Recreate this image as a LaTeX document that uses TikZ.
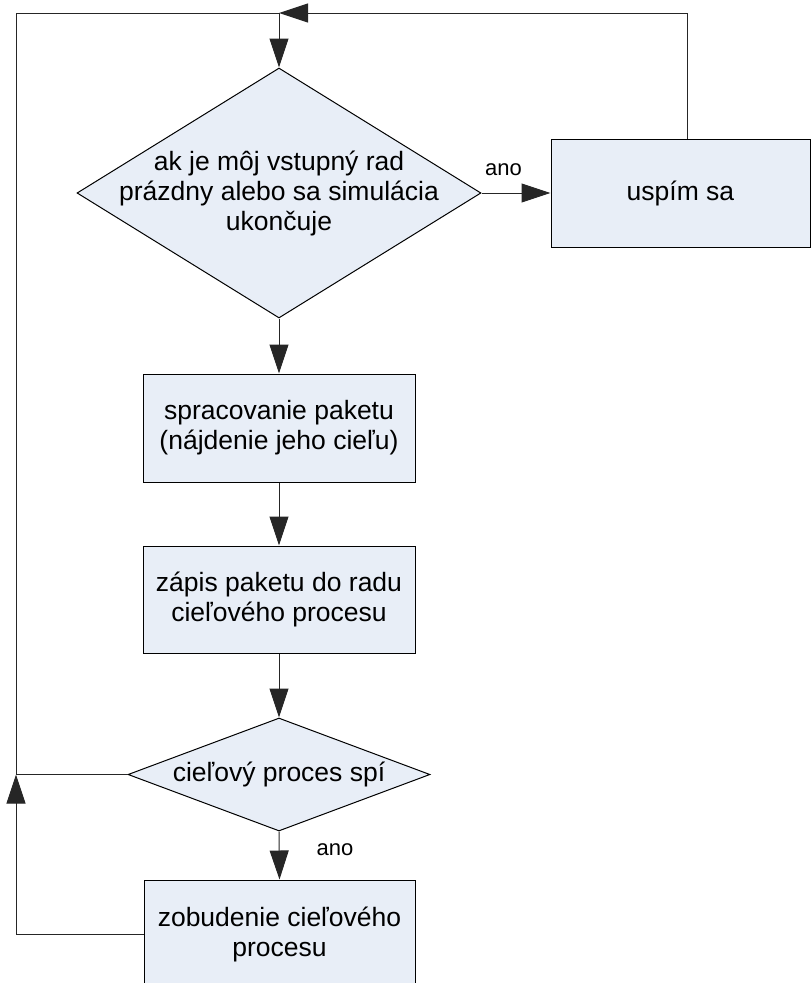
\documentclass[tikz,border=0pt]{standalone}
\usepackage{fontspec}
\setmainfont{Liberation Sans}
\usetikzlibrary{arrows.meta,shapes.geometric}
\definecolor{boxfill}{RGB}{232,238,247}
\newcommand\mainfs{\fontsize{26.5}{30}\selectfont}
\newcommand\lblfs{\fontsize{22}{26}\selectfont}
\begin{document}
\begin{tikzpicture}[x=1pt,y=-1pt,
  box/.style={draw=black,fill=boxfill,line width=1pt,inner sep=0pt,
    align=center,font=\mainfs,minimum height=108pt},
  dia/.style={diamond,draw=black,fill=boxfill,line width=1pt,inner sep=0pt},
  txt/.style={align=center,font=\mainfs,inner sep=0pt},
  lbl/.style={font=\lblfs,inner sep=0pt},
  conn/.style={draw=black!85,line width=1pt,line join=miter},
  arr/.style={conn,-{Triangle[length=29pt,width=19pt]}}]
\useasboundingbox (0,0) rectangle (811,983);

% decision and process shapes
\node[dia,minimum width=404pt,minimum height=250pt] (d1) at (279,193) {};
\node[txt] (d1t) at (d1.center) {ak je môj vstupný rad\\prázdny alebo sa simulácia\\ukončuje};
\node[box,minimum width=259pt] (b1) at (680.5,193) {uspím sa};
\node[box,minimum width=272pt] (b2) at (279,428) {spracovanie paketu\\(nájdenie jeho cieľu)};
\node[box,minimum width=272pt,minimum height=107pt] (b3) at (279,599.5) {zápis paketu do radu\\cieľového procesu};
\node[dia,minimum width=302pt,minimum height=113pt] (d2) at (279,774.5) {};
\node[txt] (d2t) at (d2.center) {cieľový proces spí};
\node[box,minimum width=271pt] (b4) at (279.5,934) {zobudenie cieľového\\procesu};

% corner points of the loop-back lines
\coordinate (top) at (279,13);
\coordinate (tl) at (16,13);
\coordinate (jl) at (16,774.5);

% connectors
\draw[arr] (top) -- (d1.north);
\draw[arr] (d1.east) -- (b1.west);
\node[lbl,anchor=base] (ano1) at (503.5,175) {ano};
\draw[arr] ([xshift=6.5pt]b1.north) |- (top);
\draw[arr] (d1.south) -- (b2.north);
\draw[arr] (b2.south) -- (b3.north);
\draw[arr] (b3.south) -- (d2.north);
\draw[arr] (d2.south) -- (b4.north);
\node[lbl,anchor=base] (ano2) at (335,855) {ano};
\draw[arr] (b4.west) -| (jl);
\draw[conn] (d2.west) -- (jl) -- (tl) -- (top);
\end{tikzpicture}
\end{document}
